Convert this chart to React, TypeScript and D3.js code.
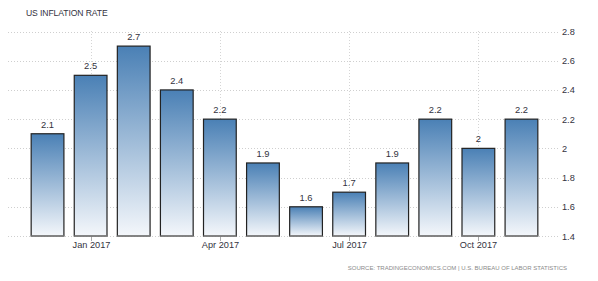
import React from "react";
import * as d3 from "d3";

const months = ["Dec 2016","Jan 2017","Feb 2017","Mar 2017","Apr 2017","May 2017","Jun 2017","Jul 2017","Aug 2017","Sep 2017","Oct 2017","Nov 2017"];
const values = [2.1, 2.5, 2.7, 2.4, 2.2, 1.9, 1.6, 1.7, 1.9, 2.2, 2.0, 2.2];
const valueLabels = ["2.1","2.5","2.7","2.4","2.2","1.9","1.6","1.7","1.9","2.2","2","2.2"];
const yTicks = [1.4, 1.6, 1.8, 2.0, 2.2, 2.4, 2.6, 2.8];
const xTickMonths = ["Jan 2017", "Apr 2017", "Jul 2017", "Oct 2017"];
const title = "US INFLATION RATE";
const source = "SOURCE: TRADINGECONOMICS.COM | U.S. BUREAU OF LABOR STATISTICS";

export default function App() {
  const W = 598, H = 281;
  const x = d3.scaleBand<string>().domain(months).range([26, 543]).paddingInner(0.24).paddingOuter(0.12);
  const y = d3.scaleLinear().domain([1.4, 2.8]).range([236, 31.5]);
  const txt = "#333340";
  return (
    <svg width={W} height={H} style={{ position: "absolute", left: 0, top: 0, background: "#fff" }} fontFamily="'Liberation Sans', Arial, sans-serif">
      <defs>
        <linearGradient id="barGrad" x1="0" y1="0" x2="0" y2="1">
          <stop offset="0%" stopColor="#4a80b5" />
          <stop offset="100%" stopColor="#f4f7fb" />
        </linearGradient>
      </defs>
      <text x={26} y={16} fontSize={8.6} fill={txt} fontWeight={500} letterSpacing={-0.1}>{title}</text>
      {yTicks.map((t) => (
        <g key={t}>
          <line x1={8} x2={558} y1={Math.round(y(t)) + 0.5} y2={Math.round(y(t)) + 0.5} stroke="#cfcfcf" strokeDasharray="1,2" />
          <text x={562} y={y(t) + 3.5} fontSize={9.2} fill={txt}>{d3.format("~g")(t)}</text>
        </g>
      ))}
      {xTickMonths.map((m) => {
        const cx = Math.round((x(m) as number) + x.bandwidth() / 2) + 0.5;
        return (
          <g key={m}>
            <line x1={cx} x2={cx} y1={31} y2={236} stroke="#d5d5d5" strokeDasharray="1,2" />
            <line x1={cx} x2={cx} y1={236} y2={241} stroke="#aaa" />
            <text x={cx} y={248} fontSize={9.2} fill={txt} textAnchor="middle">{m}</text>
          </g>
        );
      })}
      {months.map((m, i) => {
        const bx = x(m) as number;
        const top = y(values[i]);
        return (
          <g key={m}>
            <rect x={bx} y={top} width={x.bandwidth()} height={236 - top} fill="url(#barGrad)" stroke="#222" strokeWidth={1.2} />
            <line x1={bx} x2={bx + x.bandwidth()} y1={236} y2={236} stroke="#888" strokeWidth={1.4} />
            <text x={bx + x.bandwidth() / 2} y={top - 6} fontSize={9.4} fill={txt} textAnchor="middle">{valueLabels[i]}</text>
          </g>
        );
      })}
      <text x={567} y={270} fontSize={6.0} fill="#8a8a8a" textAnchor="end">{source}</text>
    </svg>
  );
}
